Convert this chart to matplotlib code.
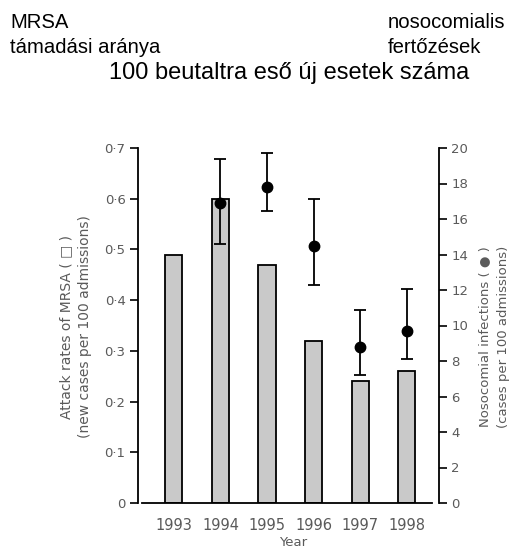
import matplotlib
matplotlib.use("Agg")
import matplotlib.pyplot as plt
import numpy as np

years = ["1993", "1994", "1995", "1996", "1997", "1998"]
mrsa_rates = [0.49, 0.60, 0.47, 0.32, 0.24, 0.26]
noso_years_idx = [1, 2, 3, 4, 5]
noso_values = [16.9, 17.8, 14.5, 8.8, 9.7]
noso_upper = [19.4, 19.7, 17.1, 10.9, 12.05]
noso_lower = [14.6, 16.45, 12.3, 7.2, 8.1]
left_ticks = [0, 0.1, 0.2, 0.3, 0.4, 0.5, 0.6, 0.7]
left_ticklabels = ["0", "0·1", "0·2", "0·3", "0·4", "0·5", "0·6", "0·7"]
right_ticks = [0, 2, 4, 6, 8, 10, 12, 14, 16, 18, 20]
right_ticklabels = ["0", "2", "4", "6", "8", "10", "12", "14", "16", "18", "20"]

W, H = 515, 547
fig = plt.figure(figsize=(W / 100, H / 100), dpi=100)
ax = fig.add_axes([138 / W, 1 - 503 / H, (439 - 138) / W, (503 - 148) / H])
ax2 = ax.twinx()

x = np.arange(len(years))
ax.bar(x, mrsa_rates, width=0.37, color="#c9c9c9", edgecolor="black", linewidth=1.3, zorder=2)
ax.set_xlim(-0.77, 5.69)
ax.set_ylim(0, 0.7)
ax.set_yticks(left_ticks)
ax.set_yticklabels(left_ticklabels)
ax.set_xticks(x)
ax.set_xticklabels(years)

xe = np.array(noso_years_idx)
vals = np.array(noso_values)
yerr = [vals - np.array(noso_lower), np.array(noso_upper) - vals]
ax2.errorbar(xe, vals, yerr=yerr, fmt="o", color="black", markersize=7.5,
             capsize=4.3, elinewidth=1.3, capthick=1.3, zorder=3)
ax2.set_ylim(0, 20)
ax2.set_yticks(right_ticks)
ax2.set_yticklabels(right_ticklabels)

tick_color = "#5a5a5a"
for a in (ax, ax2):
    a.spines["top"].set_visible(False)
    a.tick_params(axis="y", length=6, width=1.2, colors="black", labelcolor=tick_color,
                  labelsize=9.5, pad=3)
ax.tick_params(axis="x", length=0, labelcolor=tick_color, labelsize=10.5, pad=11)
ax.spines["right"].set_visible(False)
ax2.spines["left"].set_visible(False)
ax2.spines["bottom"].set_visible(False)
ax.spines["left"].set_linewidth(1.3)
ax2.spines["right"].set_linewidth(1.3)
ax.spines["bottom"].set_linewidth(1.3)
ax.spines["bottom"].set_bounds(-0.69, 5.54)

fig.text(293 / W, 1 - 542 / H, "Year", color=tick_color, fontsize=9.5,
         ha="center", va="center")
fig.text(76 / W, 1 - 327 / H,
         "Attack rates of MRSA ( \u25a1 )\n(new cases per 100 admissions)",
         color=tick_color, fontsize=10, rotation=90, ha="center", va="center",
         linespacing=1.45, multialignment="center")
fig.text(494 / W, 1 - 337 / H,
         "Nosocomial infections ( \u25cf )\n(cases per 100 admissions)",
         color=tick_color, fontsize=9.5, rotation=90, ha="center", va="center",
         linespacing=1.6, multialignment="center")

ff = ["Liberation Sans", "DejaVu Sans"]
fig.text(10 / W, 1 - 28 / H, "MRSA", family=ff, fontsize=14.6, va="baseline", ha="left")
fig.text(10 / W, 1 - 53 / H, "támadási aránya", family=ff, fontsize=14.6, va="baseline", ha="left")
fig.text(388 / W, 1 - 28 / H, "nosocomialis", family=ff, fontsize=14.6, va="baseline", ha="left")
fig.text(388 / W, 1 - 53 / H, "fertőzések", family=ff, fontsize=14.6, va="baseline", ha="left")
fig.text(289.5 / W, 1 - 79 / H, "100 beutaltra eső új esetek száma", family=ff, fontsize=17,
         va="baseline", ha="center")

fig.savefig("out.png", dpi=100)
